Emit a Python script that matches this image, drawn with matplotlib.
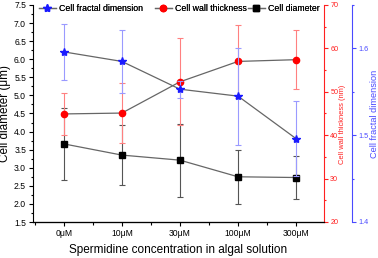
import matplotlib
matplotlib.use('Agg')
import matplotlib.pyplot as plt
from matplotlib.ticker import MultipleLocator
from matplotlib.lines import Line2D
import numpy as np

plt.rcParams['font.family'] = ['Liberation Sans', 'DejaVu Sans']

categories = ['0μM', '10μM', '30μM', '100μM', '300μM']
diameter = [3.66, 3.35, 3.21, 2.75, 2.73]
diameter_err = [1.0, 0.83, 1.01, 0.74, 0.6]
thickness = [44.9, 45.1, 52.3, 57.0, 57.4]
thickness_err = [4.8, 7.0, 10.0, 8.4, 6.8]
fractal = [1.596, 1.585, 1.553, 1.545, 1.496]
fractal_err = [0.0325, 0.0365, 0.01, 0.056, 0.043]

W, H = 378, 258
fig = plt.figure(figsize=(W / 100, H / 100), dpi=100)
ax = fig.add_axes([33 / W, 36 / H, 291 / W, 217 / H])
x = np.arange(len(categories))

line_col = '#666666'
tick_fs = 6.2
rtick_fs = 5.2

# Cell diameter (left axis)
ax.errorbar(x, diameter, yerr=diameter_err, fmt='none', ecolor='#555555',
            elinewidth=0.8, capsize=2, capthick=0.8, zorder=2)
ax.plot(x, diameter, '-', color=line_col, lw=0.9, marker='s', ms=4,
        mfc='black', mec='black', zorder=3)
ax.set_xlim(-0.53, 4.48)
ax.set_ylim(1.5, 7.5)
ax.yaxis.set_major_locator(MultipleLocator(0.5))
ax.yaxis.set_minor_locator(MultipleLocator(0.25))
ax.set_xticks(x)
ax.set_xticklabels(categories)
ax.xaxis.set_minor_locator(MultipleLocator(0.5))
ax.tick_params(axis='both', which='major', direction='out', length=3, width=0.8,
               labelsize=tick_fs, pad=2)
ax.tick_params(axis='both', which='minor', direction='out', length=1.5, width=0.8)
ax.tick_params(axis='x', which='minor', length=2)
ax.spines['top'].set_visible(False)
ax.spines['right'].set_visible(False)
ax.set_ylabel('Cell diameter (μm)', fontsize=8.5)
ax.yaxis.set_label_coords(-0.076, 0.5)
ax.set_xlabel('Spermidine concentration in algal solution', fontsize=8.5, labelpad=4)

# Cell wall thickness (red axis)
red = '#ff2020'
ax2 = ax.twinx()
ax2.errorbar(x, thickness, yerr=thickness_err, fmt='none', ecolor='#ff8080',
             elinewidth=0.8, capsize=2, capthick=0.8, zorder=2)
ax2.plot(x, thickness, '-', color=line_col, lw=0.9, marker='o', ms=4.5,
         mfc='red', mec='red', zorder=3)
ax2.set_ylim(20, 70)
ax2.yaxis.set_major_locator(MultipleLocator(10))
ax2.yaxis.set_minor_locator(MultipleLocator(5))
ax2.spines['top'].set_visible(False)
ax2.spines['left'].set_visible(False)
ax2.spines['right'].set_color(red)
ax2.tick_params(axis='y', which='major', direction='out', length=3, width=0.8,
                colors=red, labelsize=rtick_fs, pad=1.5)
ax2.tick_params(axis='y', which='minor', direction='out', length=1.5, width=0.8, colors=red)
ax2.set_ylabel('Cell wall thickness (nm)', color=red, fontsize=5.4)
ax2.yaxis.set_label_coords((338.5 - 33) / 291, 0.45)

# Cell fractal dimension (blue axis)
blue = '#4a4aff'
ax3 = ax.twinx()
ax3.spines['right'].set_position(('outward', 28 * 0.72))
ax3.errorbar(x, fractal, yerr=fractal_err, fmt='none', ecolor='#9a9aff',
             elinewidth=0.8, capsize=2, capthick=0.8, zorder=2)
ax3.plot(x, fractal, '-', color=line_col, lw=0.9, marker='*', ms=6,
         mfc='#1a1aff', mec='#1a1aff', zorder=3)
ax3.set_ylim(1.4, 1.65)
ax3.yaxis.set_major_locator(MultipleLocator(0.1))
ax3.yaxis.set_minor_locator(MultipleLocator(0.05))
ax3.spines['top'].set_visible(False)
ax3.spines['left'].set_visible(False)
ax3.spines['right'].set_color(blue)
ax3.tick_params(axis='y', which='major', direction='out', length=3, width=0.8,
                colors=blue, labelsize=rtick_fs, pad=1.5)
ax3.tick_params(axis='y', which='minor', direction='out', length=1.5, width=0.8, colors=blue)
ax3.set_ylabel('Cell fractal dimension', color=blue, fontsize=6.6)
ax3.yaxis.set_label_coords((369.5 - 33) / 291, 0.5)

handles = [
    Line2D([], [], color=line_col, lw=0.9, marker='*', ms=6, mfc='#1a1aff', mec='#1a1aff'),
    Line2D([], [], color=line_col, lw=0.9, marker='o', ms=4.5, mfc='red', mec='red'),
    Line2D([], [], color=line_col, lw=0.9, marker='s', ms=4, mfc='black', mec='black'),
]
labels = ['Cell fractal dimension', 'Cell wall thickness', 'Cell diameter']
starts = [39, 155, 248]
for h, lab, sx in zip(handles, labels, starts):
    lg = fig.legend([h], [lab], loc='upper left', bbox_to_anchor=(sx / W, 1 - 4 / H),
                    frameon=False, fontsize=6.3, handlelength=1.9,
                    handletextpad=0.35, borderpad=0, borderaxespad=0)
    fig.add_artist(lg)

fig.savefig('out.png', dpi=100)
